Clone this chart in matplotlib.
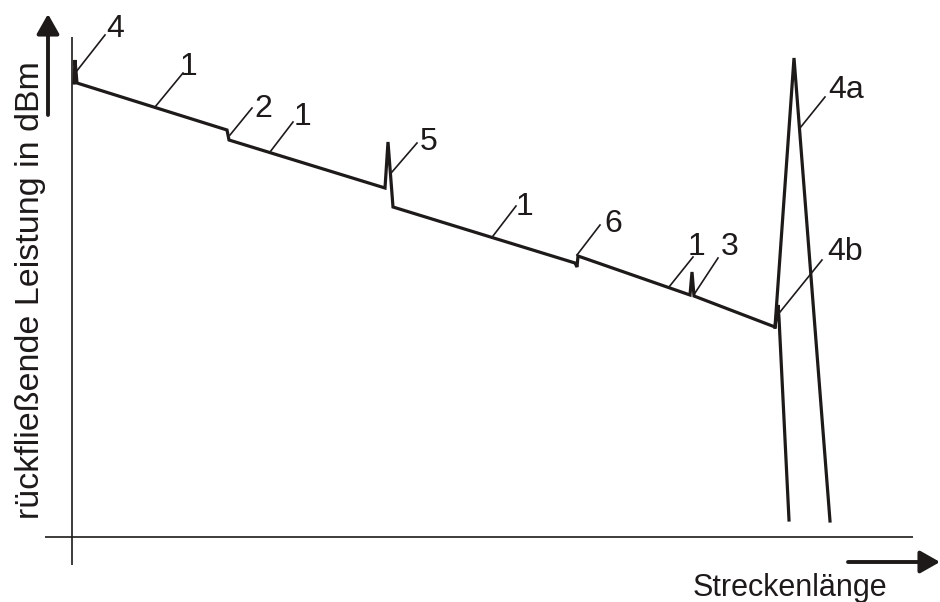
import matplotlib
matplotlib.use("Agg")
import matplotlib.pyplot as plt

# ---- data (diagram coordinates) ----
trace_x = [74, 75, 77, 227, 229, 385, 388, 393, 575, 577, 578, 690, 692, 694, 775]
trace_y = [83, 60, 83, 130, 140, 188, 142, 207, 263, 267, 256, 295, 272, 296, 327]

end_a_x = [775, 794, 830]          # end reflection 4a
end_a_y = [327, 58, 521]
end_b_x = [775, 778, 779, 789]     # end reflection 4b
end_b_y = [327, 305, 318, 520]

labels = ["4", "1", "2", "1", "5", "1", "6", "1", "3", "4b", "4a"]
label_x = [115, 189, 263, 302, 429, 524, 613, 697, 730, 845, 846]
label_y = [37, 75, 117, 125, 150, 215, 232, 255, 255, 260, 98]
leader_x0 = [76, 155, 230, 270, 392, 493, 577, 669, 695, 780, 800]
leader_y0 = [72, 107, 135, 152, 172, 236, 255, 287, 293, 312, 128]
leader_x1 = [105, 183, 252, 293, 417, 516, 600, 693, 718, 822, 825]
leader_y1 = [35, 73, 108, 122, 143, 206, 225, 257, 258, 260, 97]

y_label = "rückfließende Leistung in dBm"
x_label = "Streckenlänge"

INK = "#1e1a1a"
FONT = ["Liberation Sans", "DejaVu Sans"]

fig = plt.figure(figsize=(9.4, 6.02), dpi=100)
ax = fig.add_axes([0, 0, 1, 1])
ax.set_xlim(0, 940)
ax.set_ylim(602, 0)
ax.axis("off")

# axes lines
ax.plot([72, 72], [37, 565], color=INK, lw=1.2, solid_capstyle="butt")
ax.plot([45, 913], [537, 537], color=INK, lw=1.2, solid_capstyle="butt")

# trace
ax.plot(trace_x, trace_y, color=INK, lw=2.3, solid_joinstyle="miter")
ax.plot(end_a_x, end_a_y, color=INK, lw=2.3, solid_joinstyle="miter")
ax.plot(end_b_x, end_b_y, color=INK, lw=2.3, solid_joinstyle="miter")

# leader lines and labels
for t, lx, ly, x0, y0, x1, y1 in zip(labels, label_x, label_y,
                                    leader_x0, leader_y0, leader_x1, leader_y1):
    ax.plot([x0, x1], [y0, y1], color=INK, lw=1.2)
    ax.text(lx, ly, t, ha="center", va="baseline", fontsize=23,
            family=FONT, color=INK)

# direction arrows
arrow_style = "-|>,head_length=0.6,head_width=0.34"
ax.annotate("", xy=(48, 14), xytext=(48, 115),
            arrowprops=dict(arrowstyle=arrow_style, mutation_scale=20,
                            lw=2.8, color=INK, shrinkA=0, shrinkB=0))
ax.annotate("", xy=(940, 562), xytext=(848, 562),
            arrowprops=dict(arrowstyle=arrow_style, mutation_scale=20,
                            lw=2.8, color=INK, shrinkA=0, shrinkB=0))

# axis titles
ax.text(31, 290, y_label, rotation=90, ha="center", va="center",
        fontsize=24.5, family=FONT, color=INK)
ax.text(790, 596, x_label, ha="center", va="baseline",
        fontsize=22, family=FONT, color=INK)

fig.savefig("out.png", dpi=100)
